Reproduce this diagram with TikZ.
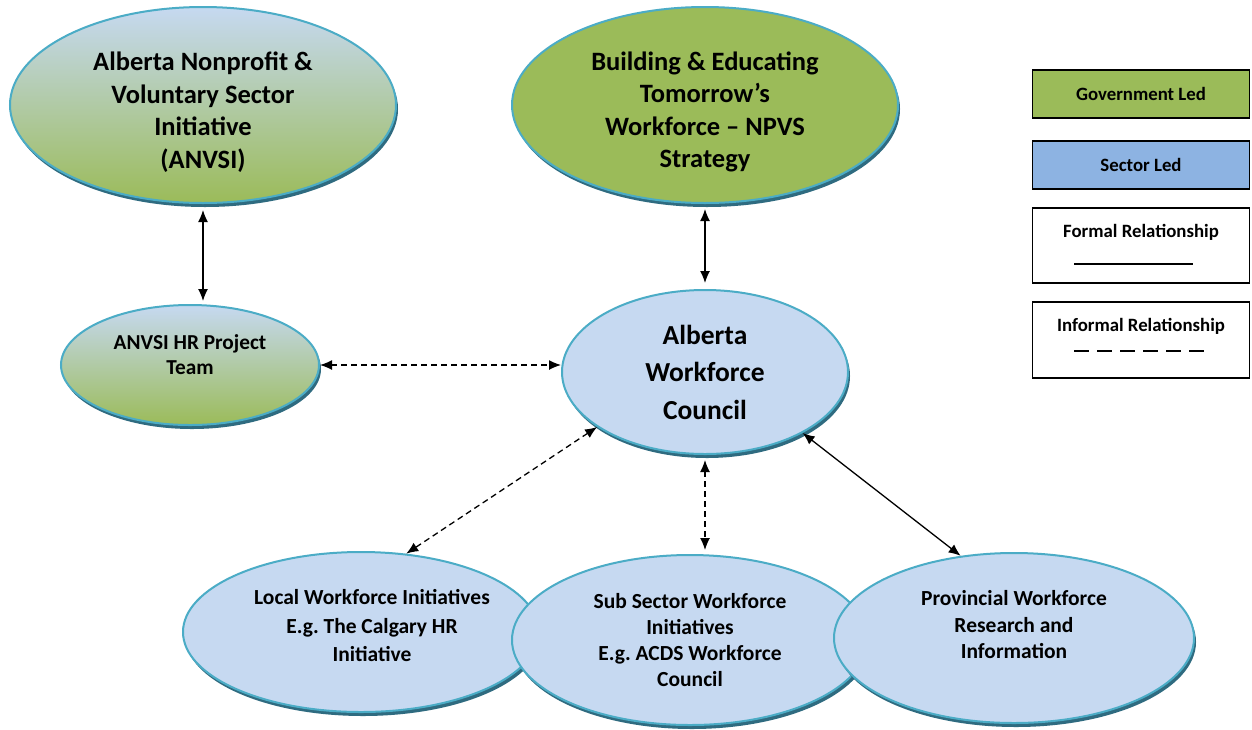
\documentclass[tikz,border=0pt]{standalone}
\usepackage{fontspec}
\setmainfont{Carlito}
\usetikzlibrary{arrows.meta,positioning,shapes.geometric,shadows,calc}

\definecolor{govgreen}{HTML}{9BBB59}
\definecolor{sectblue}{HTML}{C6D9F1}
\definecolor{keyblue}{HTML}{8DB3E2}
\definecolor{rimteal}{HTML}{4BACC6}
\definecolor{shadeteal}{HTML}{2F6B80}

\begin{document}
\begin{tikzpicture}[x=1pt,y=-1pt,
    oval/.style={draw=rimteal,line width=2pt,ellipse,inner sep=0pt,align=center,
      drop shadow={shadow xshift=2pt,shadow yshift=-4pt,fill=shadeteal,opacity=1}},
    gov/.style={oval,fill=govgreen},
    sect/.style={oval,fill=sectblue},
    mixed/.style={oval,top color=sectblue,bottom color=govgreen},
    bigtxt/.style={font=\bfseries\fontsize{26.5}{32.5}\selectfont,align=center},
    midtxt/.style={font=\bfseries\fontsize{21.5}{26.5}\selectfont,align=center},
    keytxt/.style={font=\bfseries\fontsize{18.8}{22}\selectfont,align=center},
    key/.style={draw,line width=1.5pt,minimum width=217pt,keytxt},
    formal/.style={<->,>={Latex[length=12pt,width=10pt]},line width=1.3pt},
    informal/.style={formal,dash pattern=on 6pt off 4pt}
  ]
    \useasboundingbox[fill=white] (0,0) rectangle (1252,729);

    %% top row
    \node[mixed,minimum width=386pt,minimum height=196pt,
      label={[bigtxt,yshift=-7pt]center:Alberta Nonprofit \&\\Voluntary Sector\\Initiative\\(ANVSI)}]
      (anvsi) at (203,105) {};
    \node[gov,minimum width=386pt,minimum height=196pt,
      label={[bigtxt,yshift=-7pt]center:Building \& Educating\\Tomorrow's\\Workforce -- NPVS\\Strategy}]
      (bet) at (705,105) {};

    %% middle row
    \node[mixed,minimum width=258pt,minimum height=120pt,
      label={[midtxt,font=\bfseries\fontsize{21.3}{25}\selectfont,yshift=10pt]center:ANVSI HR Project\\Team}]
      (hrteam) at (190,365) {};
    \node[sect,font=\bfseries\fontsize{27.5}{37.5}\selectfont,
      minimum width=286pt,minimum height=164pt] (awc) at (705,372)
      {Alberta\\Workforce\\Council};

    %% bottom row, drawn left to right so each one overlaps the last
    \node[sect,minimum width=356pt,minimum height=160pt,
      label={[midtxt,font=\bfseries\fontsize{21.5}{28.5}\selectfont,xshift=11pt,yshift=6pt]center:Local Workforce Initiatives\\E.g.\ The Calgary HR\\Initiative}]
      (local) at (361,632) {};
    \node[sect,midtxt,font=\bfseries\fontsize{21.5}{26}\selectfont,
      minimum width=356pt,minimum height=170pt] (sub) at (690,640)
      {Sub Sector Workforce\\Initiatives\\E.g.\ ACDS Workforce\\Council};
    \node[sect,minimum width=360pt,minimum height=170pt,
      label={[midtxt,yshift=13pt]center:Provincial Workforce\\Research and\\Information}]
      (prov) at (1014,638) {};

    %% key
    \node[key,fill=govgreen,minimum height=48pt] (govkey) at (1141,94) {Government Led};
    \node[key,fill=keyblue,minimum height=48pt] (sectkey) at (1141,165) {Sector Led};
    \node[key,minimum height=75pt] (formalkey) at (1141,245.5) {};
    \node[keytxt,below=13pt of formalkey.north] (formaltxt) {Formal Relationship};
    \draw[line width=2pt] ($(formalkey.south)+(-67,-20)$) -- ++(119,0);
    \node[key,minimum height=76pt] (informalkey) at (1141,340) {};
    \node[keytxt,below=13pt of informalkey.north] (informaltxt) {Informal Relationship};
    \draw[line width=2.5pt,dash pattern=on 15pt off 8pt] ($(informalkey.south)+(-67,-28)$) -- ++(130,0);

    %% relationships
    \draw[formal,shorten <=6pt,shorten >=3pt] (anvsi.south) -- (anvsi.south |- hrteam.north);
    \draw[formal,shorten <=5pt,shorten >=6pt] (bet.south) -- (bet.south |- awc.north);
    \draw[informal] (hrteam.east) -- (hrteam.east -| awc.west);
    \draw[informal] (awc.207) -- (local.60);
    \draw[informal,shorten <=5pt,shorten >=4pt] (awc.south) -- (awc.south |- sub.north);
    \draw[formal] (awc.328) -- (prov.123);
  \end{tikzpicture}
\end{document}
